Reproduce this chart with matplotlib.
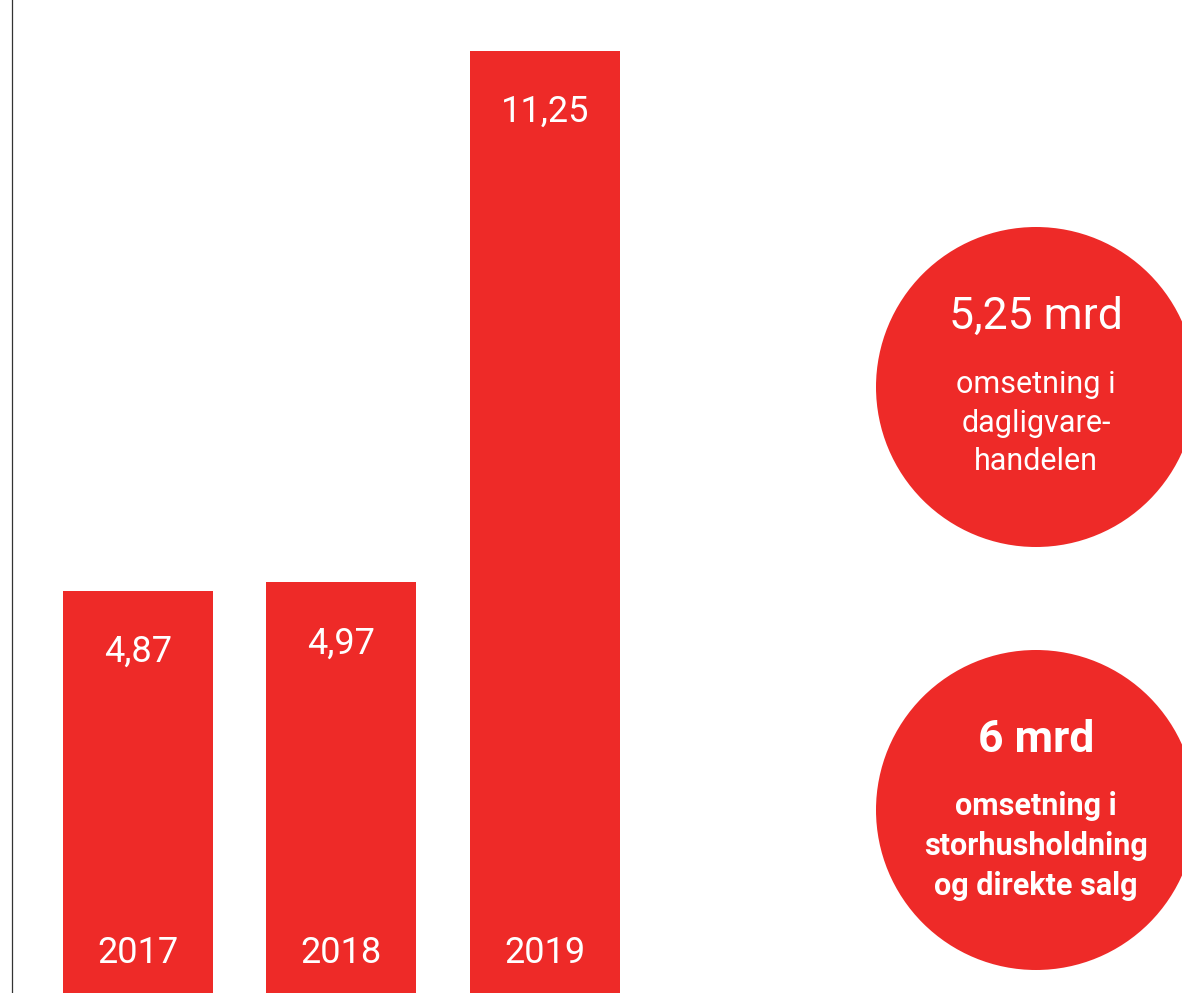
import matplotlib
matplotlib.use("Agg")
import matplotlib.pyplot as plt
from matplotlib.patches import Circle

# data
years = ["2017", "2018", "2019"]
values = [4.87, 4.97, 11.25]
value_labels = ["4,87", "4,97", "11,25"]

circle_heads = ["5,25 mrd", "6 mrd"]
circle_texts = ["omsetning i\ndagligvare-\nhandelen",
                "omsetning i\nstorhusholdning\nog direkte salg"]
circle_bold = [False, True]

RED = "#ee2a28"
plt.rcParams['font.family'] = ['Roboto', 'DejaVu Sans']

W, H = 1182, 993
fig = plt.figure(figsize=(W / 100, H / 100), dpi=100)

# bar axes, left spine at ~12 px; baseline sits a little below the image edge
ax = fig.add_axes([12 / W, 0, 1 - 12 / W, 1])
x = range(len(years))
ax.bar(x, values, width=0.737, color=RED)
ax.set_xlim(-0.619, 5.130)
ymin, ymax = 0.118, 11.853
ax.set_ylim(ymin, ymax)
for s in ["top", "right", "bottom"]:
    ax.spines[s].set_visible(False)
ax.spines["left"].set_color("#333333")
ax.spines["left"].set_linewidth(0.9)
ax.set_xticks([])
ax.set_yticks([])

for i, (v, lab, yr) in enumerate(zip(values, value_labels, years)):
    ax.annotate(lab, (i, v), xytext=(0, -44), textcoords="offset points",
                ha="center", va="center", color="white", fontsize=26)
    ax.annotate(yr, (i, ymin), xytext=(0, 29), textcoords="offset points",
                ha="center", va="center", color="white", fontsize=26)

# circles (pixel coords overlay)
ov = fig.add_axes([0, 0, 1, 1])
ov.set_xlim(0, W)
ov.set_ylim(H, 0)
ov.axis("off")
ov.patch.set_alpha(0)

centers = [(1036, 387), (1036, 810)]
for (cx, cy), head, txt, bold in zip(centers, circle_heads, circle_texts, circle_bold):
    ov.add_patch(Circle((cx, cy), 160, color=RED, lw=0))
    fw = "bold" if bold else "normal"
    ov.text(cx, cy - 70, head, ha="center", va="center", color="white",
            fontsize=32, fontweight=fw)
    ov.text(cx, cy + 36, txt, ha="center", va="center", color="white",
            fontsize=22, fontweight=fw, linespacing=1.4)

fig.savefig("out.png", dpi=100)
